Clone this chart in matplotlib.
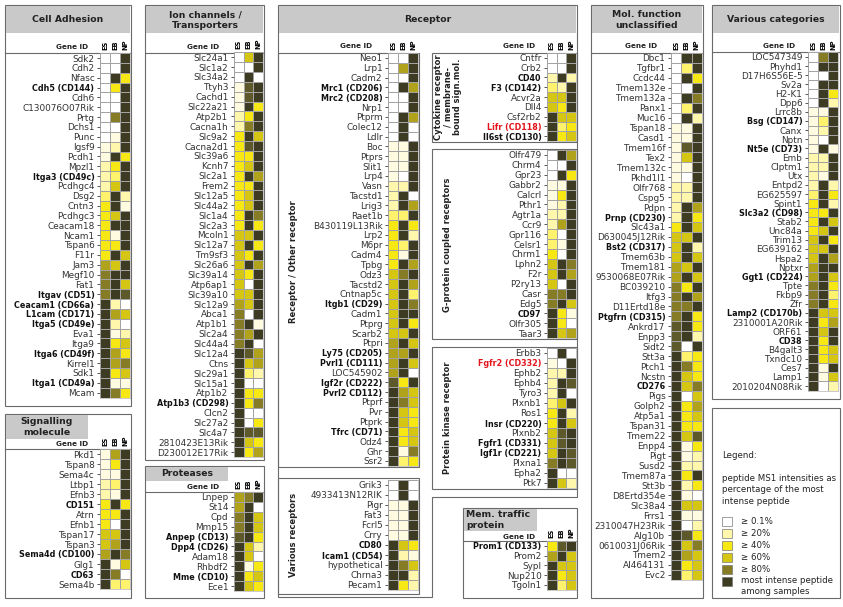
import re
import numpy as np
import matplotlib
matplotlib.use("Agg")
import matplotlib.pyplot as plt
from matplotlib.colors import ListedColormap, BoundaryNorm
from matplotlib.patches import Rectangle, Polygon

# intensity class of each cell: 0 = >=0.1 % ... 9 = most intense peptide among samples
cell_adhesion_genes = ["Sdk2", "Cdh2", "Nfasc", "Cdh5 (CD144)", "Cdh6", "C130076O07Rik", "Prtg", "Dchs1",
                       "Punc", "Igsf9", "Pcdh1", "Mpzl1", "Itga3 (CD49c)", "Pcdhgc4", "Dsg2", "Cntn3",
                       "Pcdhgc3", "Ceacam18", "Ncam1", "Tspan6", "F11r", "Jam3", "Megf10", "Fat1",
                       "Itgav (CD51)", "Ceacam1 (CD66a)", "L1cam (CD171)", "Itga5 (CD49e)", "Eva1", "Itga9",
                       "Itga6 (CD49f)", "Kirrel1", "Sdk1", "Itga1 (CD49a)", "Mcam"]
cell_adhesion_es = [0, 0, 0, 0, 0, 0, 0, 0, 0, 1, 1, 2, 2, 2, 3, 4, 4, 4, 4, 4, 4, 6, 7, 7, 7,
                    9, 9, 9, 9, 9, 9, 9, 9, 9, 9]
cell_adhesion_eb = [0, 0, 9, 4, 0, 0, 7, 0, 1, 2, 9, 4, 3, 5, 9, 9, 5, 9, 1, 4, 9, 5, 9, 9, 9,
                    2, 6, 2, 1, 4, 6, 6, 4, 1, 7]
cell_adhesion_np = [9, 9, 4, 9, 9, 9, 9, 9, 9, 9, 4, 9, 9, 9, 2, 1, 9, 9, 9, 9, 5, 9, 9, 5, 8,
                    0, 5, 0, 2, 5, 4, 7, 5, 1, 4]

signalling_genes = ["Pkd1", "Tspan8", "Sema4c", "Ltbp1", "Efnb3", "CD151", "Atrn", "Efnb1", "Tspan17",
                    "Tspan3", "Sema4d (CD100)", "Glg1", "CD63", "Sema4b"]
signalling_es = [1, 1, 1, 2, 2, 4, 4, 4, 5, 5, 6, 9, 9, 9]
signalling_eb = [6, 4, 1, 3, 1, 9, 4, 0, 5, 6, 9, 1, 7, 3]
signalling_np = [9, 9, 9, 9, 9, 4, 9, 9, 9, 9, 7, 5, 0, 3]

ion_genes = ["Slc24a1", "Slc1a2", "Slc34a2", "Ttyh3", "Cachd1", "Slc22a21", "Atp2b1", "Cacna1h", "Slc9a2",
             "Cacna2d1", "Slc39a6", "Kcnh7", "Slc2a1", "Frem2", "Slc12a5", "Slc44a2", "Slc1a4", "Slc2a3",
             "Mcoln1", "Slc12a7", "Tm9sf3", "Slc26a6", "Slc39a14", "Atp6ap1", "Slc39a10", "Slc12a9",
             "Abca1", "Atp1b1", "Slc2a4", "Slc44a4", "Slc12a4", "Ctns", "Slc29a1", "Slc15a1", "Atp1b2",
             "Atp1b3 (CD298)", "Clcn2", "Slc27a2", "Slc4a7", "2810423E13Rik", "D230012E17Rik"]
ion_es = [0, 0, 0, 1, 1, 1, 2, 2, 4, 4, 4, 4, 4, 4, 4, 4, 4, 4, 5, 5, 5, 5, 5, 5, 5, 6, 7, 7, 7, 7,
          9, 9, 9, 9, 9, 9, 9, 9, 9, 9, 9]
ion_eb = [5, 0, 9, 8, 8, 9, 4, 7, 9, 8, 4, 5, 9, 4, 5, 5, 9, 9, 5, 9, 4, 9, 4, 0, 5, 5, 0, 9, 6, 9,
          8, 5, 3, 0, 4, 4, 0, 0, 8, 5, 4]
ion_np = [9, 9, 0, 9, 9, 4, 9, 9, 5, 9, 9, 9, 6, 9, 9, 9, 7, 4, 9, 4, 9, 6, 9, 9, 9, 9, 9, 1, 9, 0,
          6, 6, 2, 0, 4, 7, 0, 4, 8, 4, 6]

protease_genes = ["Lnpep", "St14", "Cpd", "Mmp15", "Anpep (CD13)", "Dpp4 (CD26)", "Adam18", "Rhbdf2",
                  "Mme (CD10)", "Ece1"]
protease_es = [6, 6, 7, 7, 8, 9, 9, 9, 9, 9]
protease_eb = [7, 9, 9, 9, 9, 5, 5, 1, 4, 5]
protease_np = [9, 0, 5, 5, 4, 2, 0, 4, 5, 4]

other_rec_genes = ["Neo1", "Lrp1", "Cadm2", "Mrc1 (CD206)", "Mrc2 (CD208)", "Nrp1", "Ptprm", "Colec12",
                   "Ldlr", "Boc", "Ptprs", "Slit1", "Lrp4", "Vasn", "Tacstd1", "Lrig3", "Raet1b",
                   "B430119L13Rik", "Lrp2", "M6pr", "Cadm4", "Tpbg", "Odz3", "Tacstd2", "Cntnap5c",
                   "Itgb1 (CD29)", "Cadm1", "Ptprg", "Scarb2", "Ptpri", "Ly75 (CD205)", "Pvrl1 (CD111)",
                   "LOC545902", "Igf2r (CD222)", "Pvrl2 CD112)", "Ptprf", "Pvr", "Ptprk", "Tfrc (CD71)",
                   "Odz4", "Ghr", "Ssr2"]
other_rec_es = [0, 0, 0, 0, 0, 0, 0, 0, 0, 1, 1, 1, 1, 2, 2, 2, 3, 4, 4, 4, 4, 4, 5, 5, 5, 5, 5, 5,
                5, 6, 6, 6, 6, 8, 9, 9, 9, 9, 9, 9, 9, 9]
other_rec_eb = [0, 6, 0, 9, 0, 0, 9, 9, 9, 1, 1, 1, 0, 2, 9, 9, 3, 9, 9, 3, 1, 9, 7, 9, 9, 9, 9, 9,
                5, 9, 6, 9, 9, 4, 6, 7, 5, 5, 4, 4, 1, 3]
other_rec_np = [9, 9, 9, 6, 9, 9, 6, 0, 0, 9, 9, 9, 9, 9, 0, 6, 9, 4, 2, 9, 9, 6, 9, 6, 3, 7, 9, 4,
                9, 5, 9, 5, 0, 9, 5, 5, 4, 4, 5, 5, 7, 4]

various_rec_genes = ["Grik3", "4933413N12RIK", "Pigr", "Fat3", "Fcrl5", "Crry", "CD80", "Icam1 (CD54)",
                     "hypothetical", "Chrna3", "Pecam1"]
various_rec_es = [0, 0, 1, 1, 1, 1, 9, 9, 9, 9, 9]
various_rec_eb = [9, 9, 1, 1, 1, 1, 5, 2, 7, 9, 4]
various_rec_np = [0, 0, 9, 9, 9, 9, 4, 1, 5, 2, 2]

cytokine_genes = ["Cntfr", "Crb2", "CD40", "F3 (CD142)", "Acvr2a", "Dll4", "Csf2rb2", "Lifr (CD118)",
                  "Il6st (CD130)"]
cytokine_es = [0, 0, 2, 3, 5, 5, 9, 9, 9]
cytokine_eb = [0, 0, 9, 2, 5, 4, 5, 3, 4]
cytokine_np = [9, 9, 2, 9, 9, 9, 5, 4, 5]

gpcr_genes = ["Olfr479", "Chrm4", "Gpr23", "Gabbr2", "Calcrl", "Pthr1", "Agtr1a", "Ccr9", "Gpr116",
              "Celsr1", "Chrm1", "Lphn2", "F2r", "P2ry13", "Casr", "Edg5", "CD97", "Olfr305", "Taar3"]
gpcr_es = [0, 0, 0, 1, 1, 1, 2, 2, 3, 3, 4, 5, 5, 5, 7, 7, 9, 9, 9]
gpcr_eb = [9, 0, 9, 1, 4, 2, 2, 6, 0, 1, 0, 9, 9, 0, 7, 9, 4, 4, 5]
gpcr_np = [6, 9, 4, 9, 9, 9, 9, 9, 9, 9, 9, 7, 6, 9, 9, 5, 1, 0, 6]

kinase_genes = ["Erbb3", "Fgfr2 (CD332)", "Ephb2", "Ephb4", "Tyro3", "Plxnb1", "Ros1", "Insr (CD220)",
                "Plxnb2", "Fgfr1 (CD331)", "Igf1r (CD221)", "Plxna1", "Epha2", "Ptk7"]
kinase_es = [0, 1, 2, 2, 2, 3, 4, 4, 5, 5, 5, 7, 9, 9]
kinase_eb = [9, 0, 2, 9, 9, 5, 9, 9, 8, 8, 9, 9, 0, 5]
kinase_np = [0, 9, 9, 8, 0, 9, 2, 5, 9, 9, 8, 8, 0, 2]

traffic_genes = ["Prom1 (CD133)", "Prom2", "Sypl", "Nup210", "Tgoln1"]
traffic_es = [4, 6, 9, 9, 9]
traffic_eb = [8, 9, 5, 4, 3]
traffic_np = [9, 5, 5, 5, 5]

molfun_genes = ["Dbc1", "Tgfbr1", "Ccdc44", "Tmem132e", "Tmem132a", "Panx1", "Muc16", "Tspan18", "Casd1",
                "Tmem16f", "Tex2", "Tmem132c", "Pkhd1l1", "Olfr768", "Cspg5", "Pdpn", "Prnp (CD230)",
                "Slc43a1", "D630045J12Rik", "Bst2 (CD317)", "Tmem63b", "Tmem181", "9530068E07Rik",
                "BC039210", "Itfg3", "D11Ertd18e", "Ptgfrn (CD315)", "Ankrd17", "Enpp3", "Sidt2", "Stt3a",
                "Ptch1", "Ncstn", "CD276", "Pigs", "Golph2", "Atp5a1", "Tspan31", "Tmem22", "Enpp4", "Pigt",
                "Susd2", "Tmem87a", "Stt3b", "D8Ertd354e", "Slc38a4", "Frrs1", "2310047H23Rik", "Alg10b",
                "0610031J06Rik", "Tmem2", "AI464131", "Evc2"]
molfun_es = [0, 0, 0, 0, 0, 0, 0, 1, 1, 1, 1, 1, 1, 2, 2, 2, 2, 4, 5, 5, 5, 6, 6, 7, 7, 7, 7, 8, 8,
             8, 9, 9, 9, 9, 9, 9, 9, 9, 9, 9, 9, 9, 9, 9, 9, 9, 9, 9, 9, 9, 9, 9, 9]
molfun_eb = [9, 3, 9, 0, 9, 3, 9, 1, 1, 8, 5, 1, 0, 2, 2, 9, 9, 9, 5, 9, 9, 5, 9, 4, 9, 7, 9, 9, 9,
             0, 3, 7, 5, 5, 0, 4, 4, 4, 5, 1, 1, 2, 4, 2, 1, 5, 1, 0, 8, 5, 6, 4, 3]
molfun_np = [9, 9, 4, 9, 7, 9, 2, 9, 9, 9, 9, 9, 9, 9, 9, 6, 4, 5, 9, 2, 5, 9, 5, 9, 6, 9, 4, 4, 2,
             9, 4, 4, 4, 7, 5, 6, 5, 4, 8, 4, 2, 2, 9, 4, 0, 5, 1, 2, 4, 7, 5, 5, 5]

varcat_genes = ["LOC547349", "Phyhd1", "D17H6S56E-5", "Sv2a", "H2-K1", "Dpp6", "Lrrc8b", "Bsg (CD147)",
                "Canx", "Nptn", "Nt5e (CD73)", "Emb", "Clptm1", "Utx", "Entpd2", "EG625597", "Spint1",
                "Slc3a2 (CD98)", "Stab2", "Unc84a", "Trim13", "EG639162", "Hspa2", "Nptxr", "Ggt1 (CD224)",
                "Tpte", "Fkbp9", "Zfr", "Lamp2 (CD170b)", "2310001A20Rik", "ORF61", "CD38", "B4galt3",
                "Txndc10", "Ces7", "Lamp1", "2010204N08Rik"]
varcat_es = [0, 0, 0, 0, 0, 0, 1, 1, 1, 1, 1, 2, 2, 2, 2, 3, 4, 4, 4, 4, 5, 5, 5, 6, 6, 7, 7, 7,
             9, 9, 9, 9, 9, 9, 9, 9, 9]
varcat_eb = [7, 9, 0, 9, 9, 9, 1, 3, 2, 0, 9, 2, 2, 1, 9, 9, 9, 4, 9, 5, 9, 5, 9, 9, 9, 9, 9, 9,
             5, 4, 5, 4, 4, 4, 1, 1, 0]
varcat_np = [9, 9, 9, 9, 4, 2, 9, 9, 9, 9, 1, 9, 9, 9, 2, 4, 2, 9, 5, 9, 4, 9, 6, 9, 5, 4, 3, 4,
             5, 6, 9, 9, 5, 5, 9, 5, 2]

red_genes = ["Lifr", "Fgfr2"]
legend_codes = [0, 2, 4, 5, 7, 9]
legend_labels = ["\u2265 0.1%", "\u2265 20%", "\u2265 40%", "\u2265 60%", "\u2265 80%",
                 "most intense peptide\namong samples"]

W, H = 843, 607
fig = plt.figure(figsize=(W / 100, H / 100), dpi=100)
bg = fig.add_axes([0, 0, 1, 1])
bg.set_xlim(0, W)
bg.set_ylim(H, 0)
bg.axis("off")

colors = ["#ffffff", "#fffbe0", "#fff7ab", "#fff36e", "#f7e814", "#d6c614",
          "#b1a21c", "#877c26", "#5e592b", "#3d3b21"]
cmap = ListedColormap(colors)
norm = BoundaryNorm(np.arange(-0.5, 10.5), cmap.N)

EDGE = "#6a6a6a"
BAND = "#c9c9c9"


def box(x0, y0, x1, y1):
    bg.add_patch(Rectangle((x0, y0), x1 - x0, y1 - y0, fill=False, ec=EDGE, lw=0.8))


def band(x0, y0, x1, y1):
    bg.add_patch(Rectangle((x0, y0), x1 - x0, y1 - y0, fc=BAND, ec="none"))


def hline(x0, x1, y):
    bg.plot([x0, x1], [y, y], color=EDGE, lw=0.8)


def title(x, y, s, ha="center"):
    bg.text(x, y, s, ha=ha, va="center", fontsize=6.7, fontweight="bold", color="#222222",
            linespacing=1.15)


def gene_id(x, y):
    bg.text(x, y, "Gene ID", ha="right", va="center", fontsize=5.2, fontweight="bold", color="#222222")


def side_label(x, y, s):
    bg.text(x, y, s, ha="center", va="center", rotation=90, fontsize=6, fontweight="bold",
            color="#222222", linespacing=1.1, multialignment="center")


def heat(genes, es, eb, np_, x0, x1, top, step, cols=True):
    n = len(genes)
    ax = fig.add_axes([x0 / W, 1 - (top + n * step) / H, (x1 - x0) / W, n * step / H])
    ax.pcolormesh(np.array([es, eb, np_]).T, cmap=cmap, norm=norm,
                  edgecolors="#a3a3a3", linewidth=0.4)
    ax.set_xlim(0, 3)
    ax.set_ylim(n, 0)
    ax.set_yticks(np.arange(n) + 0.5)
    ax.set_yticklabels(genes)
    for lab, g in zip(ax.get_yticklabels(), genes):
        if re.search(r"CD\d", g):
            lab.set_fontweight("bold")
            lab.set_fontsize(5.8)
            lab.set_color("#111111")
        else:
            lab.set_fontsize(6.4)
            lab.set_color("#333333")
        if g.split()[0] in red_genes:
            lab.set_color("#e3141c")
    ax.tick_params(axis="y", length=2.5, width=0.7, color="#555555", pad=1.5)
    ax.xaxis.tick_top()
    ax.set_xticks([0.5, 1.5, 2.5])
    if cols:
        ax.set_xticklabels(["ES", "EB", "NP"], rotation=90, fontsize=4.8, fontweight="bold")
    else:
        ax.set_xticklabels([])
    ax.tick_params(axis="x", length=0, pad=2)
    for s in ax.spines.values():
        s.set_color("#a3a3a3")
        s.set_linewidth(0.4)
    return ax


# Cell adhesion
box(5, 5, 131, 406)
band(6, 6, 130, 33)
title(68, 20, "Cell Adhesion")
gene_id(88, 47)
hline(5, 131, 53)
heat(cell_adhesion_genes, cell_adhesion_es, cell_adhesion_eb, cell_adhesion_np, 100, 130, 53.1, 9.84)

# Signalling molecule
box(5, 414, 131, 598)
band(6, 415, 88, 439)
title(47, 427, "Signalling\nmolecule")
gene_id(88, 444)
hline(5, 131, 449)
heat(signalling_genes, signalling_es, signalling_eb, signalling_np, 100, 130, 449, 10.0)

# Ion channels / transporters
box(145, 5, 264, 460)
band(146, 6, 263, 33)
title(205, 20, "Ion channels /\nTransporters")
gene_id(219, 47)
hline(145, 264, 52.5)
heat(ion_genes, ion_es, ion_eb, ion_np, 234, 263, 52.2, 9.875)

# Proteases
box(145, 466, 264, 598)
band(146, 467, 228, 481)
title(187, 474, "Proteases")
gene_id(219, 487)
hline(145, 264, 492)
heat(protease_genes, protease_es, protease_eb, protease_np, 234, 263, 492, 9.9)

# Receptor group
bg.add_patch(Polygon([(278, 5), (577, 5), (577, 497), (432, 497), (432, 597), (278, 597)],
                     closed=True, fill=False, ec=EDGE, lw=0.8))
band(279, 6, 576, 33)
title(428, 20, "Receptor")
gene_id(372, 46)
gene_id(535, 46)

box(278, 52.5, 419, 467)
heat(other_rec_genes, other_rec_es, other_rec_eb, other_rec_np, 388, 418, 53, 9.83)
side_label(293, 262, "Receptor / Other receptor")

box(278, 478, 419, 594)
heat(various_rec_genes, various_rec_es, various_rec_eb, various_rec_np, 388, 418, 480, 10.0, cols=False)
side_label(293, 535, "Various receptors")

box(432, 52.5, 577, 141.5)
heat(cytokine_genes, cytokine_es, cytokine_eb, cytokine_np, 547, 576, 53, 9.8)
side_label(448, 97, "Cytokine receptor\n/ membrane-\nbound sign.mol.")

box(432, 149, 577, 339)
heat(gpcr_genes, gpcr_es, gpcr_eb, gpcr_np, 547, 576, 150, 9.9, cols=False)
side_label(448, 245, "G-protein coupled receptors")

box(432, 347, 577, 489)
heat(kinase_genes, kinase_es, kinase_eb, kinase_np, 547, 576, 348, 10.0, cols=False)
side_label(448, 418, "Protein kinase receptor")

# Mem. traffic protein
box(463, 508, 577, 598)
band(464, 509, 537, 531)
title(466, 520, "Mem. traffic\nprotein", ha="left")
gene_id(535, 537)
hline(463, 577, 541)
heat(traffic_genes, traffic_es, traffic_eb, traffic_np, 547, 576, 541, 9.75)

# Mol. function unclassified
box(591, 5, 703, 598)
band(592, 6, 702, 33)
title(647, 20, "Mol. function\nunclassified")
gene_id(657, 46)
hline(591, 703, 53)
heat(molfun_genes, molfun_es, molfun_eb, molfun_np, 671, 702, 53, 9.94)

# Various categories
box(712, 5, 840, 399)
band(713, 6, 839, 33)
title(776, 20, "Various categories")
gene_id(795, 46)
hline(712, 840, 52)
heat(varcat_genes, varcat_es, varcat_eb, varcat_np, 808, 838, 52.4, 9.14)

# Legend
box(712, 408, 840, 598)
bg.text(722, 456, "Legend:", fontsize=6.2, va="center", color="#222222")
bg.text(722, 490, "peptide MS1 intensities as\npercentage of the most\nintense peptide",
        fontsize=6.2, va="center", color="#222222", linespacing=1.35)
for i, (code, lab) in enumerate(zip(legend_codes, legend_labels)):
    y = 521 + i * 12
    bg.add_patch(Rectangle((722, y - 4.5), 10, 9, fc=cmap(norm(code)), ec="#777777", lw=0.5))
    bg.text(741, y + (5 if i == 5 else 0), lab, fontsize=6.2, va="center", color="#222222",
            linespacing=1.2)

fig.savefig("out.png", dpi=100)
